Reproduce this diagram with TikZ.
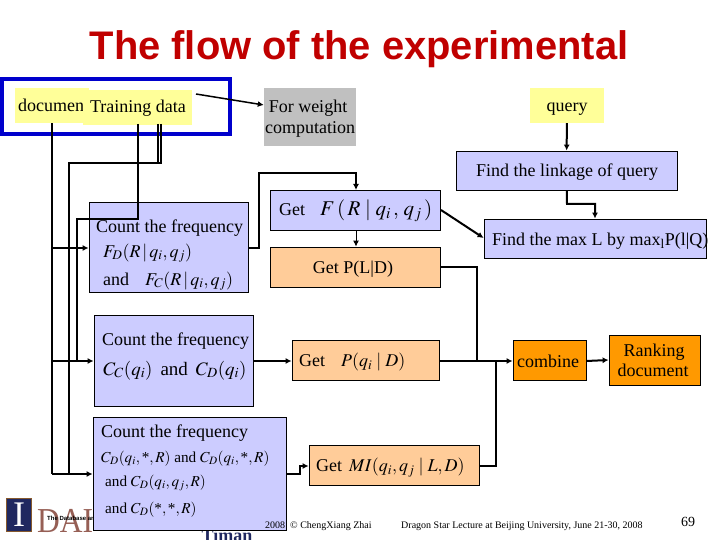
\documentclass[tikz,border=0pt]{standalone}
\usepackage{mathptmx}
\usepackage[no-math]{fontspec}
\usepackage{graphicx}
\setmainfont{Liberation Serif}
\newfontfamily\titlefont{Liberation Sans}
\usetikzlibrary{arrows.meta}
\definecolor{framecol}{RGB}{0,0,204}
\definecolor{notecol}{RGB}{255,255,153}
\definecolor{graycol}{RGB}{192,192,192}
\definecolor{stepcol}{RGB}{204,204,255}
\definecolor{getcol}{RGB}{255,204,153}
\definecolor{endcol}{RGB}{255,153,0}
\definecolor{titlecol}{RGB}{192,0,0}
\definecolor{logocol}{RGB}{32,40,96}
\definecolor{daicol}{RGB}{150,95,85}
\newcommand\stard{\hbox{*}}
\begin{document}
\begin{tikzpicture}[x=1pt,y=-1pt,font=\fontsize{18}{21}\selectfont,
txt/.style={inner sep=0pt,anchor=base west},
ctr/.style={inner sep=0pt,anchor=base},
tiny/.style={txt,font=\fontsize{10}{12}\selectfont},
small/.style={txt,font=\fontsize{15.2}{18}\selectfont},
note/.style={rectangle,inner sep=0pt},
bx/.style={rectangle,draw=black,line width=.8pt,inner sep=0pt},
sbox/.style={bx,fill=stepcol},
gbox/.style={bx,fill=getcol},
ebox/.style={bx,fill=endcol},
wire/.style={line width=2pt},
flow/.style={wire,-{Latex[length=6pt,width=6pt]}}]
\useasboundingbox (0,0) rectangle (720,540);
\node[ctr,font=\titlefont\bfseries\fontsize{39.9}{44}\selectfont,text=titlecol] (ttl) at (359,60) {The flow of the experimental};
% logo
\node[rectangle,fill=logocol,draw=brown!70!black,line width=1pt,minimum width=25pt,minimum height=33pt,inner sep=0pt,text=white,font=\fontsize{36}{36}\selectfont] (logo) at (19,515) {I};
\node[txt,text=daicol,font=\fontsize{35}{35}\selectfont] (dai) at (37,532) {\scalebox{.9}[1]{DAI}};
\node[txt,font=\titlefont\bfseries\fontsize{6}{7}\selectfont] (dbs) at (47,520) {The Database an};
\node[ctr,text=logocol,font=\bfseries\fontsize{18}{18}\selectfont] (tmn) at (227,541) {Timan};
% top row
\node[note,fill=notecol,minimum width=74pt,minimum height=35pt] (doc) at (52,105.5) {};
\node[txt] (doct) at (18,111.6) {documen};
\node[note,fill=notecol,minimum width=109pt,minimum height=35pt] (train) at (137.5,107.5) {};
\node[ctr] (traint) at (138,113) {Training data};
\node[rectangle,draw=framecol,line width=4pt,minimum width=228pt,minimum height=55pt,inner sep=0pt] (frame) at (115.5,106.5) {};
\coordinate (tr) at (196,94);
\node[note,fill=graycol,minimum width=92pt,minimum height=58pt] (wgt) at (310,117) {};
\node[ctr] (wgta) at (308,112.7) {For weight};
\node[ctr] (wgtb) at (310,133.3) {computation};
\node[note,fill=notecol,minimum width=74pt,minimum height=35pt] (qry) at (567,105.5) {};
\node[ctr] (qryt) at (567,111.7) {query};
% steps
\node[sbox,minimum width=221pt,minimum height=39pt] (link) at (566.5,170.5) {};
\node[ctr] (linkt) at (567,176.7) {Find the linkage of query};
\node[sbox,minimum width=222pt,minimum height=39pt] (lmax) at (595,238.5) {};
\node[txt] (lmaxt) at (492,245) {Find the max L by max\textsubscript{l}P(l|Q)};
\node[sbox,minimum width=159pt,minimum height=90pt] (cnta) at (168.5,247) {};
\node[txt] (cntat) at (96,232.3) {Count the frequency};
\node[txt] (cntaf) at (103,257) {$F_D(R\,|\,q_i,q_j)$};
\node[txt] (cntaa) at (103,285) {and};
\node[txt] (cntac) at (145,285) {$F_C(R\,|\,q_i,q_j)$};
\node[sbox,minimum width=170pt,minimum height=40pt] (getf) at (355,210) {};
\node[txt] (getft) at (279,215.7) {Get};
\node[txt,font=\fontsize{21}{24}\selectfont] (getfm) at (320,215.7) {$F\,(\,R\mid q_i\,,\,q_j\,)$};
\node[gbox,minimum width=170pt,minimum height=40pt] (getl) at (355,267) {};
\node[ctr] (getlt) at (353,273.3) {Get P(L|D)};
\node[sbox,minimum width=159pt,minimum height=91pt] (cntb) at (173.5,360.5) {};
\node[txt] (cntbt) at (102,345.7) {Count the frequency};
\node[txt,font=\fontsize{19}{22}\selectfont] (cntbc) at (103,375) {$C_C(q_i)$\ \,and\ \,$C_D(q_i)$};
\node[gbox,minimum width=147pt,minimum height=40pt] (getp) at (365.5,360) {};
\node[txt] (getpt) at (299,366.7) {Get};
\node[txt] (getpm) at (341,366.7) {$P(q_i\mid D)$};
\node[sbox,minimum width=193pt,minimum height=113pt] (cntc) at (189.5,473.5) {};
\node[txt] (cntct) at (101,437.7) {Count the frequency};
\node[small] (cntca) at (101,462.3) {$C_D(q_i,\stard,R)$ and $C_D(q_i,\stard,R)$};
\node[small] (cntcb) at (105,486.7) {and $C_D(q_i,q_j,R)$};
\node[small] (cntcc) at (105,513.3) {and $C_D(\stard,\stard,R)$};
\node[gbox,minimum width=170pt,minimum height=40pt] (getm) at (394,465) {};
\node[txt] (getmt) at (316,471.7) {Get};
\node[txt] (getmm) at (349,471.7) {$MI(q_i,q_j\mid L,D)$};
\node[ebox,minimum width=73pt,minimum height=40pt] (comb) at (549.5,360) {};
\node[ctr] (combt) at (548,367.7) {combine};
\node[ebox,minimum width=91pt,minimum height=50pt] (rank) at (654.5,360) {};
\node[ctr] (ranka) at (654,356.7) {Ranking};
\node[ctr] (rankb) at (653,376.7) {document};
% footer
\node[tiny] (yr) at (265,528.7) {2008};
\node[tiny] (chz) at (290,528.7) {© ChengXiang Zhai};
\node[tiny] (drg) at (401,528.7) {Dragon Star Lecture at Beijing University, June 21-30, 2008};
\node[ctr,font=\fontsize{14}{16}\selectfont] (pgn) at (688,526.7) {69};
% connectors
\coordinate (da) at (52,474);\coordinate (db) at (52,248);\coordinate (dc) at (52,361);
\draw[wire] (doc.south-|da)--(da);
\draw[flow] (db)--(cnta.west|-db);
\draw[flow] (dc)--(cntb.west|-dc);
\draw[flow] (da)--(cntc.west|-da);
\draw[wire] (138,124)--(138,219)--(77,219)--(77,361);
\draw[wire] (158,124)--(158,163)--(69,163)--(69,474);
\draw[wire] (161,124)--(161,163)--(69,163);
\draw[flow,line width=1.5pt] (tr)--(wgt.west|-0,105);
\draw[flow] (cnta.east|-0,248)--(259,248)--(259,173)--(356,173)--(356,190);
\draw[flow,line width=1pt] (getf.south-|356,0)--(getl.north-|356,0);
\draw[flow] (441,210)--(lmax.west|-0,238);
\draw[flow] (qry)--(link);
\draw[flow] (link)--(567,204)--(595,204)--(lmax);
\draw[wire] (getl)--(477,267)--(477,361);
\draw[flow] (cntb.east|-0,361)--(getp.west|-0,361);
\draw[flow] (getp.east|-0,361)--(comb.west|-0,361);
\draw[flow] (cntc.east|-0,474)--(300,474)--(300,466)--(getm.west|-0,466);
\draw[wire] (getm.east|-0,466)--(496,466)--(496,361);
\draw[flow] (comb.east|-0,361)--(rank.west|-0,360);
\end{tikzpicture}
\end{document}
